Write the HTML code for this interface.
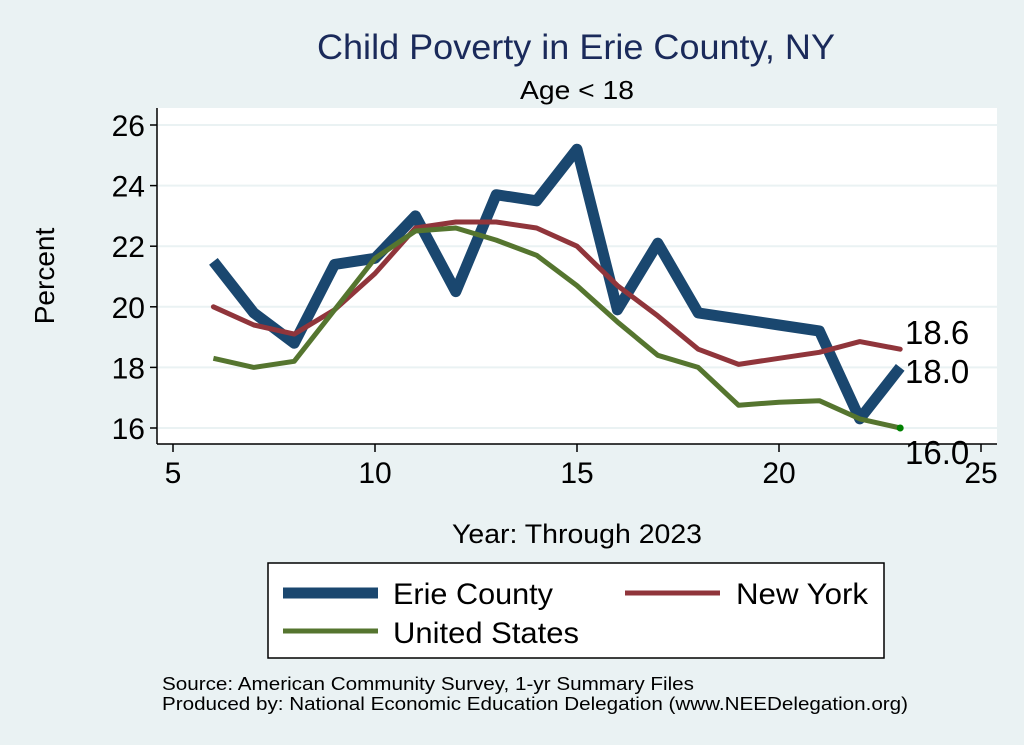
<!DOCTYPE html>
<html><head><meta charset="utf-8"><style>
html,body{margin:0;padding:0;background:#eaf2f3;}
svg{display:block;font-family:"Liberation Sans",Arial,sans-serif;}
</style></head><body>
<svg id="s" width="1024" height="745" viewBox="0 0 1024 745" xmlns="http://www.w3.org/2000/svg">
<rect width="1024" height="745" fill="#eaf2f3"/>
<rect x="157" y="108" width="840" height="336" fill="#fff"/>
<g id="grid" stroke="#eaf2f3" stroke-width="2"></g>
<line x1="157" y1="108" x2="157" y2="444" stroke="#000" stroke-width="1.5"/>
<line x1="157" y1="444" x2="997" y2="444" stroke="#000" stroke-width="1.5"/>
<g id="ticks" stroke="#000" stroke-width="1.5"></g>
<g id="labels" font-size="30" fill="#000"></g>
<g id="series" fill="none" stroke-linejoin="round"></g>
<text x="317" y="59" font-size="35" fill="#1a2a5a" textLength="518" lengthAdjust="spacingAndGlyphs">Child Poverty in Erie County, NY</text>
<text x="520" y="99" font-size="26" textLength="114" lengthAdjust="spacingAndGlyphs">Age &lt; 18</text>
<text transform="translate(54,276) rotate(-90)" font-size="28" text-anchor="middle">Percent</text>
<text x="452" y="543" font-size="27" textLength="250" lengthAdjust="spacingAndGlyphs">Year: Through 2023</text>
<text x="905" y="344" font-size="33">18.6</text>
<text x="905" y="383" font-size="33">18.0</text>
<text x="905" y="464" font-size="33">16.0</text>
<rect x="268" y="563" width="616" height="95" fill="#fff" stroke="#000" stroke-width="1.5"/>
<line x1="283" y1="593" x2="378" y2="593" stroke="#1a476f" stroke-width="11"/>
<text x="393" y="604" font-size="30" textLength="160" lengthAdjust="spacingAndGlyphs">Erie County</text>
<line x1="625" y1="593" x2="720" y2="593" stroke="#90353b" stroke-width="5"/>
<text x="736" y="604" font-size="30" textLength="132" lengthAdjust="spacingAndGlyphs">New York</text>
<line x1="283" y1="631" x2="378" y2="631" stroke="#55752f" stroke-width="5"/>
<text x="393" y="643" font-size="30" textLength="186" lengthAdjust="spacingAndGlyphs">United States</text>
<text x="162" y="690" font-size="18" textLength="532" lengthAdjust="spacingAndGlyphs">Source: American Community Survey, 1-yr Summary Files</text>
<text x="162" y="710" font-size="18" textLength="746" lengthAdjust="spacingAndGlyphs">Produced by: National Economic Education Delegation (www.NEEDelegation.org)</text>
</svg>
<script>
var NS="http://www.w3.org/2000/svg";
function X(v){return 173+40.4*(v-5);}
function Y(v){return 428-30.3*(v-16);}
function el(p,t,a,txt){var e=document.createElementNS(NS,t);for(var k in a)e.setAttribute(k,a[k]);if(txt!==undefined)e.textContent=txt;document.getElementById(p).appendChild(e);return e;}
[16,18,20,22,24,26].forEach(function(v){
 el("grid","line",{x1:158,x2:997,y1:Y(v),y2:Y(v)});
 el("ticks","line",{x1:150,x2:157,y1:Y(v),y2:Y(v)});
 el("labels","text",{x:145,y:Y(v)+11,"text-anchor":"end"},v);
});
[5,10,15,20,25].forEach(function(v){
 el("ticks","line",{x1:X(v),x2:X(v),y1:444,y2:452});
 el("labels","text",{x:X(v),y:483,"text-anchor":"middle"},v);
});
var erie=[21.5,19.8,18.8,21.4,21.6,23.0,20.5,23.7,23.5,25.2,19.9,22.1,19.8,19.6,19.4,19.2,16.3,18.0];
var ny=[20.0,19.4,19.1,19.9,21.1,22.6,22.8,22.8,22.6,22.0,20.7,19.7,18.6,18.1,18.3,18.5,18.85,18.6];
var us=[18.3,18.0,18.2,19.9,21.6,22.5,22.6,22.2,21.7,20.7,19.5,18.4,18.0,16.75,16.85,16.9,16.3,16.0];
function pts(a){return a.map(function(v,i){return X(6+i).toFixed(1)+","+Y(v).toFixed(1);}).join(" ");}
el("series","polyline",{points:pts(erie),stroke:"#1a476f","stroke-width":11});
el("series","polyline",{points:pts(ny),stroke:"#90353b","stroke-width":5,"stroke-linecap":"round"});
el("series","polyline",{points:pts(us),stroke:"#55752f","stroke-width":5});
el("series","circle",{cx:X(23),cy:Y(16),r:3.5,fill:"#008000",stroke:"none"});
</script>
</body></html>
